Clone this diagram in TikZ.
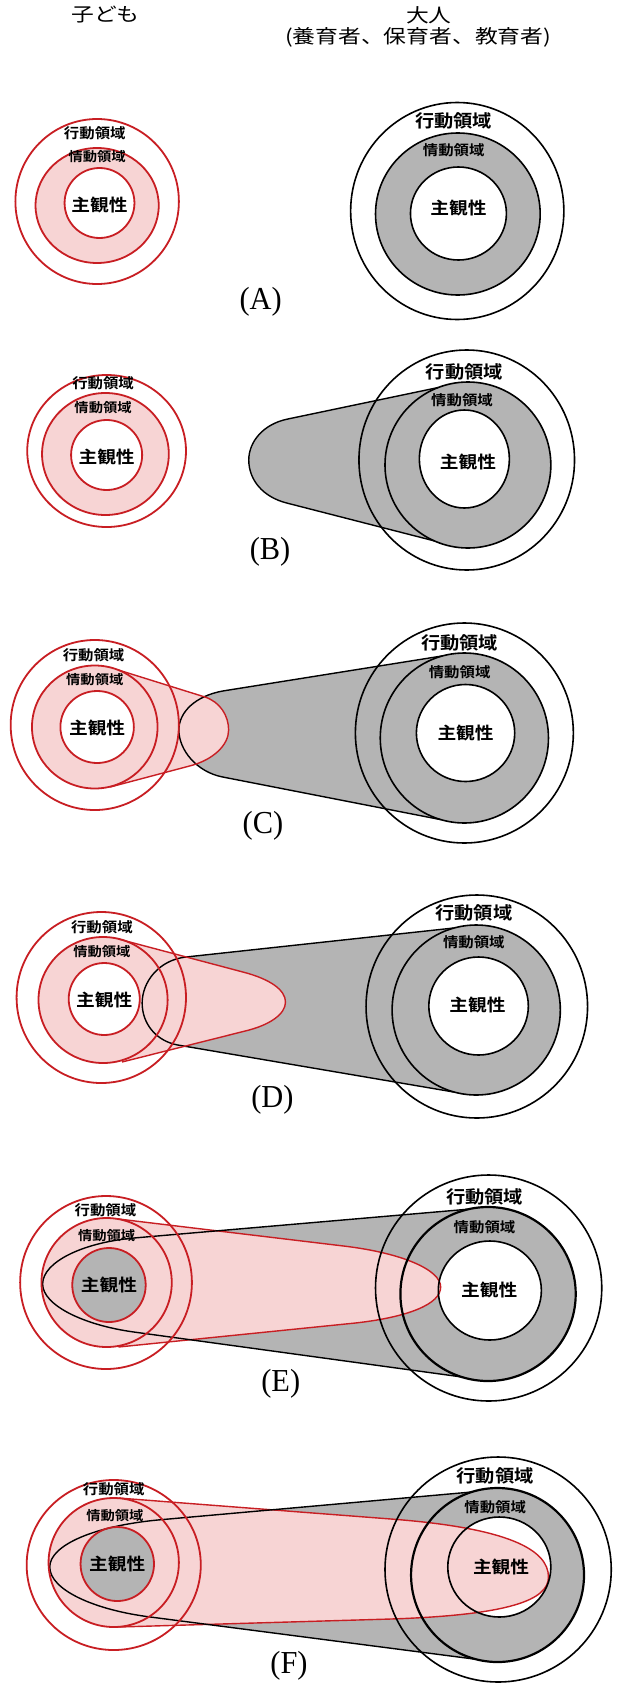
\documentclass[tikz,border=0pt]{standalone}
\usepackage{fontspec}
\newfontfamily\jp{Noto Sans CJK JP}[BoldFont={Noto Sans CJK JP Bold}]
\newfontfamily\lbl{Liberation Serif}
\definecolor{redline}{RGB}{200,30,35}
\definecolor{pinkfill}{RGB}{247,212,212}
\definecolor{grayfill}{RGB}{180,180,180}
\tikzset{
  cline/.style={draw=redline, line width=1.8pt},
  aline/.style={draw=black, line width=1.6pt},
  tline/.style={draw=black, line width=1.4pt, line join=round},
  rline/.style={draw=redline, line width=1.4pt, line join=round},
  head/.style={font=\jp\fontsize{19}{20}\selectfont, inner sep=0pt},
  cact/.style={font=\jp\bfseries\fontsize{14}{14}\selectfont, inner sep=0pt},
  cemo/.style={font=\jp\bfseries\fontsize{13}{13}\selectfont, inner sep=0pt},
  csub/.style={font=\jp\bfseries\fontsize{17}{17}\selectfont, inner sep=0pt},
  aact/.style={font=\jp\bfseries\fontsize{17.5}{18}\selectfont, inner sep=0pt},
  aemo/.style={font=\jp\bfseries\fontsize{14}{14}\selectfont, inner sep=0pt},
  asub/.style={font=\jp\bfseries\fontsize{17}{17}\selectfont, inner sep=0pt},
  letter/.style={font=\lbl\fontsize{32}{32}\selectfont, inner sep=0pt},
}
% ellipse helper: centre, x radius, y radius (coordinate units)
\newcommand\myelp[3]{#1 ellipse [x radius=#2, y radius=#3]}
% horizontally widened text
\newcommand\lab[1]{\scalebox{1.1}[1]{#1}}
\newcommand\hd[1]{\scalebox{1.2}[1]{#1}}
\newcommand\tg[1]{\scalebox{0.95}[1]{#1}}
\begin{document}
% the figure is 1.1846 times wider than its vertical units
\begin{tikzpicture}[x=1.1846pt,y=-1pt]
\useasboundingbox (0,0) rectangle (522.54,1683);
\fill[white] (0,0) rectangle (522.54,1683);

% ---------- headings ----------
\node[head] (hchild) at (89,15) {\hd{子ども}};
\node[head] (hadult) at (362,15) {\hd{大人}};
\node[head] (hroles) at (353,37) {\hd{(養育者、保育者、教育者)}};

% ---------- (A) ----------
\fill[pinkfill] \myelp{(82,205.5)}{52}{57.5};
\fill[white] \myelp{(84,203)}{29.5}{35};
\draw[cline] \myelp{(82,201.5)}{69}{82.5};
\draw[cline] \myelp{(82,205.5)}{52}{57.5};
\draw[cline] \myelp{(84,203)}{29.5}{35};
\fill[grayfill] \myelp{(386.5,214)}{69.5}{81};
\fill[white] \myelp{(387,213.5)}{40.5}{46.5};
\draw[aline] \myelp{(386,211)}{90}{108.5};
\draw[aline] \myelp{(386.5,214)}{69.5}{81};
\draw[aline] \myelp{(387,213.5)}{40.5}{46.5};
\node[cact] (a-cact) at (80,133) {\lab{行動領域}};
\node[cemo] (a-cemo) at (82,157) {\lab{情動領域}};
\node[csub] (a-csub) at (84,205) {\lab{主観性}};
\node[aact] (a-aact) at (383,121) {\lab{行動領域}};
\node[aemo] (a-aemo) at (383,150) {\lab{情動領域}};
\node[asub] (a-asub) at (387,208) {\lab{主観性}};
\node[letter] (a-tag) at (220,302) {\tg{(A)}};

% ---------- (B) ----------
\fill[pinkfill] \myelp{(89,454)}{53.5}{61};
\fill[white] \myelp{(90,455)}{30}{35};
\draw[cline] \myelp{(90,451)}{67}{76};
\draw[cline] \myelp{(89,454)}{53.5}{61};
\draw[cline] \myelp{(90,455)}{30}{35};
\fill[grayfill] (370,387.5) -- (243,419) .. controls (222,424) and (210,442) .. (210,460)
  .. controls (210,480) and (222,497) .. (242,503) -- (367,541) -- cycle;
\fill[grayfill] \myelp{(395,465)}{70}{83};
\fill[white] \myelp{(392,459)}{38}{49};
\draw[tline] (370,387.5) -- (243,419) .. controls (222,424) and (210,442) .. (210,460)
  .. controls (210,480) and (222,497) .. (242,503) -- (367,541);
\draw[aline] \myelp{(394,460)}{91}{110};
\draw[aline] \myelp{(395,465)}{70}{83};
\draw[aline] \myelp{(392,459)}{38}{49};
\node[cact] (b-cact) at (87,383) {\lab{行動領域}};
\node[cemo] (b-cemo) at (87,408) {\lab{情動領域}};
\node[csub] (b-csub) at (90,457) {\lab{主観性}};
\node[aact] (b-aact) at (392,372) {\lab{行動領域}};
\node[aemo] (b-aemo) at (390,400) {\lab{情動領域}};
\node[asub] (b-asub) at (395,462) {\lab{主観性}};
\node[letter] (b-tag) at (228,552) {\tg{(B)}};

% ---------- (C) ----------
\fill[grayfill] (373,656) -- (188,691) .. controls (165,696) and (151,712) .. (151,730)
  .. controls (151,750) and (166,772) .. (188,777) -- (372,819.6) -- cycle;
\fill[pinkfill] \myelp{(80,727)}{53}{61.5};
\fill[grayfill] \myelp{(392,738)}{71}{85};
\fill[white] \myelp{(393,733)}{41.5}{48.5};
\fill[pinkfill] (100,670) -- (173,697) .. controls (186,702) and (193,716) .. (193,730)
  .. controls (193,745) and (180,760) .. (160,766) -- (93,787) -- cycle;
\fill[white] \myelp{(82,727)}{31}{36};
\draw[tline] (373,656) -- (188,691) .. controls (165,696) and (151,712) .. (151,730)
  .. controls (151,750) and (166,772) .. (188,777) -- (372,819.6);
\draw[rline] (100,670) -- (173,697) .. controls (186,702) and (193,716) .. (193,730)
  .. controls (193,745) and (180,760) .. (160,766) -- (93,787);
\draw[cline] \myelp{(80,725)}{71}{85};
\draw[cline] \myelp{(80,727)}{53}{61.5};
\draw[cline] \myelp{(82,727)}{31}{36};
\draw[aline] \myelp{(392,733)}{92}{110};
\draw[aline] \myelp{(392,738)}{71}{85};
\draw[aline] \myelp{(393,733)}{41.5}{48.5};
\node[cact] (c-cact) at (79,655) {\lab{行動領域}};
\node[cemo] (c-cemo) at (80,680) {\lab{情動領域}};
\node[csub] (c-csub) at (82,728) {\lab{主観性}};
\node[aact] (c-aact) at (388,643) {\lab{行動領域}};
\node[aemo] (c-aemo) at (388,672) {\lab{情動領域}};
\node[asub] (c-asub) at (393,733) {\lab{主観性}};
\node[letter] (c-tag) at (222,826) {\tg{(C)}};

% ---------- (D) ----------
\fill[grayfill] (383,928) -- (157,957) .. controls (134,960) and (120,982) .. (120,1003)
  .. controls (120,1024) and (132,1041) .. (150,1045) -- (383,1092) -- cycle;
\fill[pinkfill] \myelp{(87,1000)}{54.5}{63};
\fill[grayfill] \myelp{(402,1010)}{71}{85};
\fill[white] \myelp{(404,1006)}{42}{49};
\fill[pinkfill] (100,939) -- (205,972) .. controls (228,979) and (241,990) .. (241,1002)
  .. controls (241,1014) and (228,1025) .. (207,1031) -- (103,1062) -- cycle;
\fill[white] \myelp{(88,999)}{30}{36};
\draw[tline] (383,928) -- (157,957) .. controls (134,960) and (120,982) .. (120,1003)
  .. controls (120,1024) and (132,1041) .. (150,1045) -- (383,1092);
\draw[rline] (100,939) -- (205,972) .. controls (228,979) and (241,990) .. (241,1002)
  .. controls (241,1014) and (228,1025) .. (207,1031) -- (103,1062);
\draw[cline] \myelp{(85.5,997.5)}{71.5}{85.5};
\draw[cline] \myelp{(87,1000)}{54.5}{63};
\draw[cline] \myelp{(88,999)}{30}{36};
\draw[aline] \myelp{(402.5,1006.5)}{93.5}{111.5};
\draw[aline] \myelp{(402,1010)}{71}{85};
\draw[aline] \myelp{(404,1006)}{42}{49};
\node[cact] (d-cact) at (86,927) {\lab{行動領域}};
\node[cemo] (d-cemo) at (86,952) {\lab{情動領域}};
\node[csub] (d-csub) at (88,1000) {\lab{主観性}};
\node[aact] (d-aact) at (400,913) {\lab{行動領域}};
\node[aemo] (d-aemo) at (400,942) {\lab{情動領域}};
\node[asub] (d-asub) at (403,1005) {\lab{主観性}};
\node[letter] (d-tag) at (230,1100) {\tg{(D)}};

% ---------- (E) ----------
\fill[grayfill] (397,1209) -- (113,1238) .. controls (70,1242.5) and (36,1262) .. (36,1284)
  .. controls (36,1305) and (70,1325) .. (113,1332) -- (390,1377) -- cycle;
\fill[pinkfill] \myelp{(90,1282.5)}{55}{64.5};
\fill[grayfill] \myelp{(412,1294)}{74}{87};
\fill[white] \myelp{(413.5,1290.5)}{43.5}{49.5};
\fill[pinkfill] (100,1219) -- (290,1246) .. controls (340,1253) and (372,1270) .. (372,1287)
  .. controls (372,1304) and (345,1317) .. (300,1323) -- (100,1347) -- cycle;
\fill[grayfill] \myelp{(92,1285)}{31}{37};
\draw[rline] (100,1219) -- (290,1246) .. controls (340,1253) and (372,1270) .. (372,1287)
  .. controls (372,1304) and (345,1317) .. (300,1323) -- (100,1347);
\draw[tline] (397,1209) -- (113,1238) .. controls (70,1242.5) and (36,1262) .. (36,1284)
  .. controls (36,1305) and (70,1325) .. (113,1332) -- (390,1377);
\draw[cline] \myelp{(89.5,1282.5)}{72.5}{86.5};
\draw[cline] \myelp{(90,1282.5)}{55}{64.5};
\draw[cline] \myelp{(92,1285)}{31}{37};
\draw[aline] \myelp{(412.5,1288)}{95.5}{113};
\draw[aline, line width=2.2pt] \myelp{(412,1294)}{74}{87};
\draw[aline] \myelp{(413.5,1290.5)}{43.5}{49.5};
\node[cact] (e-cact) at (89,1210) {\lab{行動領域}};
\node[cemo] (e-cemo) at (90,1236) {\lab{情動領域}};
\node[csub] (e-csub) at (92,1285) {\lab{主観性}};
\node[aact] (e-aact) at (409,1197) {\lab{行動領域}};
\node[aemo] (e-aemo) at (409,1227) {\lab{情動領域}};
\node[asub] (e-asub) at (413,1290) {\lab{主観性}};
\node[letter] (e-tag) at (237,1384) {\tg{(E)}};

% ---------- (F) ----------
\fill[grayfill] (398,1492) -- (133,1520) .. controls (80,1526) and (42,1545) .. (42,1567)
  .. controls (42,1590) and (80,1610) .. (127,1617) -- (400,1659) -- cycle;
\fill[pinkfill] \myelp{(96,1562.5)}{55}{64.5};
\fill[grayfill] \myelp{(420,1575)}{73}{87};
\fill[white] \myelp{(421.5,1567)}{43.5}{50};
\fill[pinkfill] (100,1498) -- (330,1519) .. controls (430,1528) and (463,1550) .. (463,1577)
  .. controls (463,1600) and (430,1615) .. (330,1619) -- (100,1627) -- cycle;
\fill[grayfill] \myelp{(99,1564)}{31}{37};
\draw[rline] (100,1498) -- (330,1519) .. controls (430,1528) and (463,1550) .. (463,1577)
  .. controls (463,1600) and (430,1615) .. (330,1619) -- (100,1627);
\draw[tline] (398,1492) -- (133,1520) .. controls (80,1526) and (42,1545) .. (42,1567)
  .. controls (42,1590) and (80,1610) .. (127,1617) -- (400,1659);
\draw[cline] \myelp{(96,1565)}{73.5}{85};
\draw[cline] \myelp{(96,1562.5)}{55}{64.5};
\draw[cline] \myelp{(99,1564)}{31}{37};
\draw[aline] \myelp{(420.5,1569.5)}{95.5}{112.5};
\draw[aline, line width=2.2pt] \myelp{(420,1575)}{73}{87};
\draw[aline] \myelp{(421.5,1567)}{43.5}{50};
\node[cact] (f-cact) at (96,1489) {\lab{行動領域}};
\node[cemo] (f-cemo) at (97,1516) {\lab{情動領域}};
\node[csub] (f-csub) at (99,1564) {\lab{主観性}};
\node[aact] (f-aact) at (418,1476) {\lab{行動領域}};
\node[aemo] (f-aemo) at (418,1507) {\lab{情動領域}};
\node[asub] (f-asub) at (423,1567) {\lab{主観性}};
\node[letter] (f-tag) at (244,1666) {\tg{(F)}};
\end{tikzpicture}
\end{document}
